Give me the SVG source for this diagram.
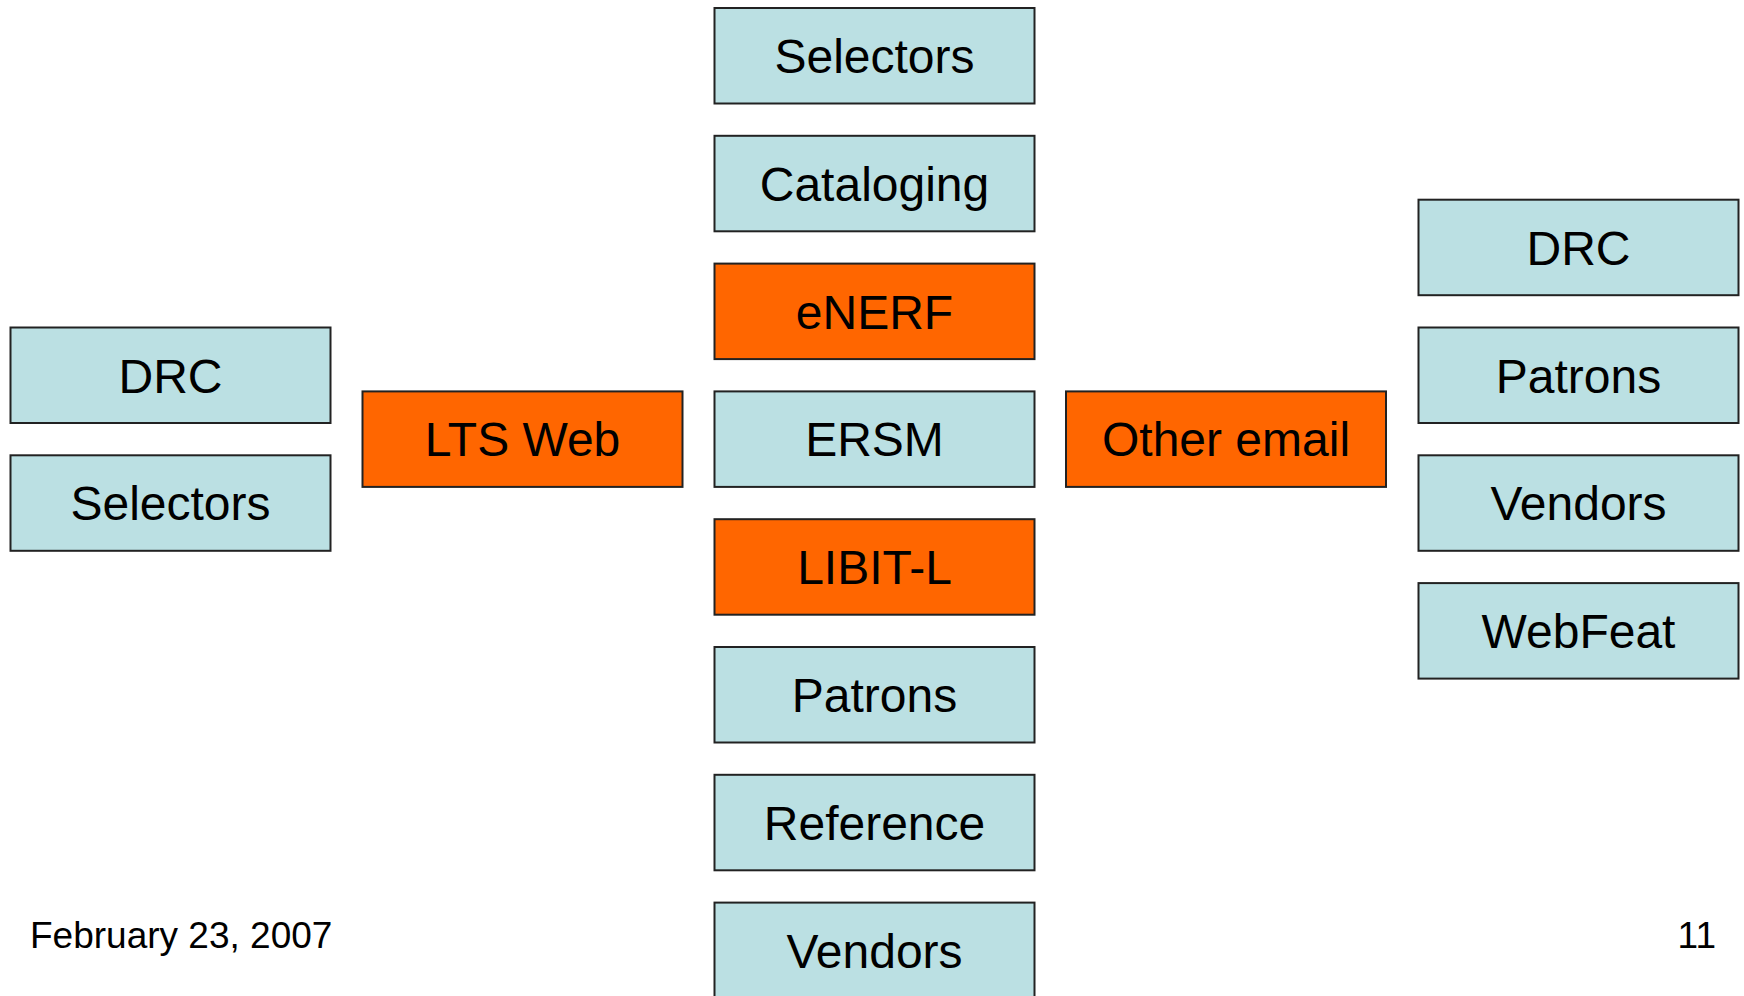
<svg xmlns="http://www.w3.org/2000/svg" width="1744" height="996" viewBox="0 0 1744 996">
<style>
.box{stroke:#222;stroke-width:2}
.blue{fill:#BBE0E3}
.orange{fill:#FF6600}
.lbl{font-family:"Liberation Sans",Arial,sans-serif;font-size:48px;fill:#000;text-anchor:middle}
.foot{font-family:"Liberation Sans",Arial,sans-serif;font-size:37px;fill:#000}
</style>
<rect width="1744" height="996" fill="#fff"/>
<g id="connectors"/>
<g id="c-selectors"><rect class="box blue" x="714.5" y="8" width="320" height="95.5"/><text class="lbl" x="874.5" y="73">Selectors</text></g>
<g id="c-cataloging"><rect class="box blue" x="714.5" y="135.8" width="320" height="95.5"/><text class="lbl" x="874.5" y="200.8">Cataloging</text></g>
<g id="c-enerf"><rect class="box orange" x="714.5" y="263.6" width="320" height="95.5"/><text class="lbl" x="874.5" y="328.6">eNERF</text></g>
<g id="c-ersm"><rect class="box blue" x="714.5" y="391.4" width="320" height="95.5"/><text class="lbl" x="874.5" y="456.4">ERSM</text></g>
<g id="c-libit"><rect class="box orange" x="714.5" y="519.2" width="320" height="95.5"/><text class="lbl" x="874.5" y="584.2">LIBIT-L</text></g>
<g id="c-patrons"><rect class="box blue" x="714.5" y="647" width="320" height="95.5"/><text class="lbl" x="874.5" y="712">Patrons</text></g>
<g id="c-reference"><rect class="box blue" x="714.5" y="774.8" width="320" height="95.5"/><text class="lbl" x="874.5" y="839.8">Reference</text></g>
<g id="c-vendors"><rect class="box blue" x="714.5" y="902.6" width="320" height="95.5"/><text class="lbl" x="874.5" y="967.6">Vendors</text></g>
<g id="l-drc"><rect class="box blue" x="10.5" y="327.5" width="320" height="95.5"/><text class="lbl" x="170.5" y="392.5">DRC</text></g>
<g id="l-selectors"><rect class="box blue" x="10.5" y="455.3" width="320" height="95.5"/><text class="lbl" x="170.5" y="520.3">Selectors</text></g>
<g id="lts-web"><rect class="box orange" x="362.5" y="391.4" width="320" height="95.5"/><text class="lbl" x="522.5" y="456.4">LTS Web</text></g>
<g id="other-email"><rect class="box orange" x="1066" y="391.4" width="320" height="95.5"/><text class="lbl" x="1226" y="456.4">Other email</text></g>
<g id="r-drc"><rect class="box blue" x="1418.5" y="199.7" width="320" height="95.5"/><text class="lbl" x="1578.5" y="264.7">DRC</text></g>
<g id="r-patrons"><rect class="box blue" x="1418.5" y="327.5" width="320" height="95.5"/><text class="lbl" x="1578.5" y="392.5">Patrons</text></g>
<g id="r-vendors"><rect class="box blue" x="1418.5" y="455.3" width="320" height="95.5"/><text class="lbl" x="1578.5" y="520.3">Vendors</text></g>
<g id="r-webfeat"><rect class="box blue" x="1418.5" y="583.1" width="320" height="95.5"/><text class="lbl" x="1578.5" y="648.1">WebFeat</text></g>
<text class="foot" x="30" y="948">February 23, 2007</text>
<text class="foot" x="1716" y="948" text-anchor="end">11</text>
</svg>
